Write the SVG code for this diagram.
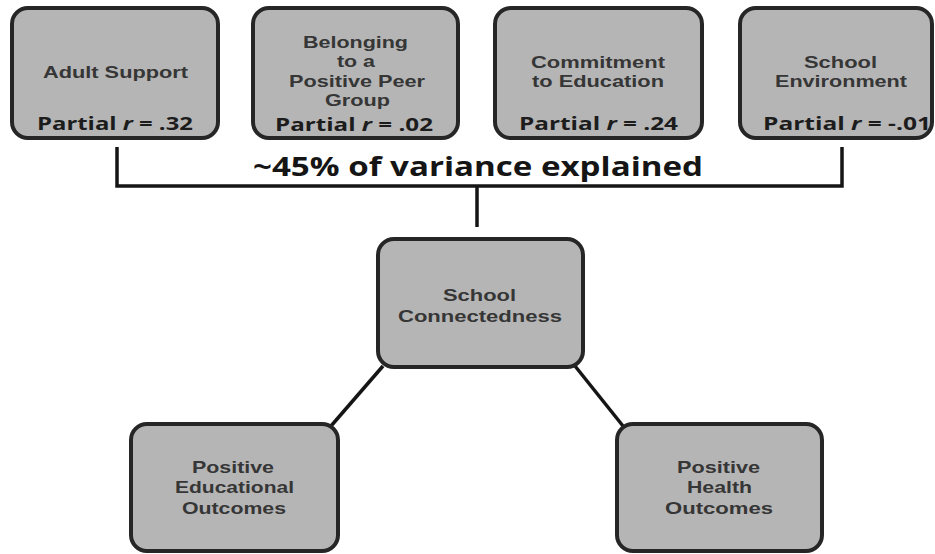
<svg xmlns="http://www.w3.org/2000/svg" width="935" height="554" viewBox="0 0 935 554">
<style>
.box{fill:#b5b5b5;stroke:#262626;stroke-width:4}
.lbl{font-family:"Liberation Sans",Arial,sans-serif;font-weight:bold;font-size:17px;fill:#363636}
.pr{font-family:"Open Sans","Liberation Sans",sans-serif;font-weight:bold;font-size:18px;fill:#1c1c1c}
.it{font-style:italic}
.con{stroke:#151515;stroke-width:3.5;fill:none}
.var{font-family:"Open Sans","Liberation Sans",sans-serif;font-weight:bold;font-size:27px;fill:#151515}
</style>
<rect width="935" height="554" fill="#ffffff"/>
<g id="connectors">
<path class="con" d="M117,147 V186 H842 V147"/>
<line class="con" x1="477" y1="186" x2="477" y2="227"/>
<line class="con" x1="383" y1="366" x2="331" y2="426"/>
<line class="con" x1="575" y1="366" x2="623" y2="426"/>
<text class="var" x="253" y="176" textLength="450" lengthAdjust="spacingAndGlyphs">~45% of variance explained</text>
</g>
<g id="adult-support">
<rect class="box" x="12" y="8" width="206" height="130" rx="16"/>
<text class="lbl" x="43" y="78" textLength="145" lengthAdjust="spacingAndGlyphs">Adult Support</text>
<text class="pr" x="37" y="130" textLength="156" lengthAdjust="spacingAndGlyphs">Partial <tspan class="it">r</tspan> = .32</text>
</g>
<g id="peer-group">
<rect class="box" x="253" y="8" width="205" height="130" rx="16"/>
<text class="lbl" x="303" y="48" textLength="105" lengthAdjust="spacingAndGlyphs">Belonging</text>
<text class="lbl" x="337" y="67" textLength="38" lengthAdjust="spacingAndGlyphs">to a</text>
<text class="lbl" x="289" y="87" textLength="136" lengthAdjust="spacingAndGlyphs">Positive Peer</text>
<text class="lbl" x="325" y="106" textLength="65" lengthAdjust="spacingAndGlyphs">Group</text>
<text class="pr" x="275" y="131" textLength="158" lengthAdjust="spacingAndGlyphs">Partial <tspan class="it">r</tspan> = .02</text>
</g>
<g id="commitment">
<rect class="box" x="495" y="8" width="207" height="130" rx="16"/>
<text class="lbl" x="531" y="68" textLength="134" lengthAdjust="spacingAndGlyphs">Commitment</text>
<text class="lbl" x="532" y="87" textLength="132" lengthAdjust="spacingAndGlyphs">to Education</text>
<text class="pr" x="519" y="130" textLength="159" lengthAdjust="spacingAndGlyphs">Partial <tspan class="it">r</tspan> = .24</text>
</g>
<g id="school-environment">
<rect class="box" x="740" y="8" width="192" height="130" rx="16"/>
<text class="lbl" x="804" y="68" textLength="73" lengthAdjust="spacingAndGlyphs">School</text>
<text class="lbl" x="775" y="87" textLength="132" lengthAdjust="spacingAndGlyphs">Environment</text>
<text class="pr" x="763" y="130" textLength="168" lengthAdjust="spacingAndGlyphs">Partial <tspan class="it">r</tspan> = -.01</text>
</g>
<g id="school-connectedness">
<rect class="box" x="378" y="239" width="205" height="128" rx="16"/>
<text class="lbl" x="443" y="301" textLength="73" lengthAdjust="spacingAndGlyphs">School</text>
<text class="lbl" x="398" y="322" textLength="164" lengthAdjust="spacingAndGlyphs">Connectedness</text>
</g>
<g id="educational-outcomes">
<rect class="box" x="131" y="424" width="207" height="127" rx="16"/>
<text class="lbl" x="192" y="473" textLength="82" lengthAdjust="spacingAndGlyphs">Positive</text>
<text class="lbl" x="175" y="493" textLength="119" lengthAdjust="spacingAndGlyphs">Educational</text>
<text class="lbl" x="182" y="514" textLength="104" lengthAdjust="spacingAndGlyphs">Outcomes</text>
</g>
<g id="health-outcomes">
<rect class="box" x="617" y="424" width="205" height="127" rx="16"/>
<text class="lbl" x="677" y="473" textLength="83" lengthAdjust="spacingAndGlyphs">Positive</text>
<text class="lbl" x="687" y="493" textLength="65" lengthAdjust="spacingAndGlyphs">Health</text>
<text class="lbl" x="665" y="514" textLength="108" lengthAdjust="spacingAndGlyphs">Outcomes</text>
</g>
</svg>
